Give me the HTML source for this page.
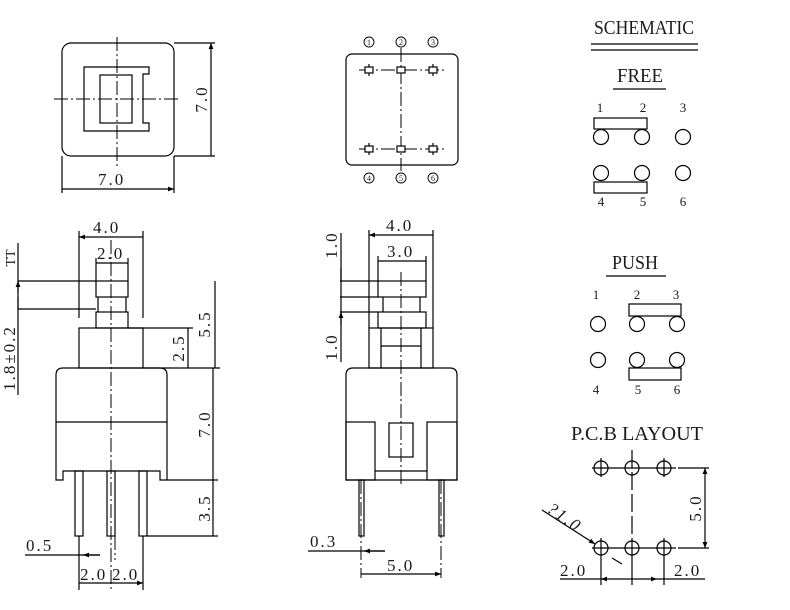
<!DOCTYPE html>
<html><head><meta charset="utf-8"><style>
html,body{margin:0;padding:0;background:#fff;}
svg{display:block;}
text{font-family:"Liberation Serif","Noto Serif CJK SC",serif;fill:#1a1a1a;}
.d{font-size:17px;letter-spacing:2px;}
.s{font-family:"Liberation Sans",sans-serif;font-size:13px;}
.t{font-size:20px;}
</style></head><body>
<svg width="790" height="610" viewBox="0 0 790 610" xmlns="http://www.w3.org/2000/svg">
<defs>
<marker id="e" viewBox="0 0 10 10" refX="10" refY="5" markerWidth="8" markerHeight="6" orient="auto" markerUnits="userSpaceOnUse"><path d="M0,1L10,5L0,9z" fill="#000" stroke="none"/></marker>
<marker id="b" viewBox="0 0 10 10" refX="0" refY="5" markerWidth="8" markerHeight="6" orient="auto" markerUnits="userSpaceOnUse"><path d="M10,1L0,5L10,9z" fill="#000" stroke="none"/></marker>
</defs>
<g fill="none" stroke="#000" stroke-width="1.2">
<!-- top-left view -->
<rect x="62" y="43" width="112" height="113" rx="9"/>
<path d="M84,67H149V74H143V123H149V131H84Z"/>
<rect x="100" y="75" width="32" height="48"/>
<path d="M117,37V167M54,99H178" stroke-width="1" stroke-dasharray="14,3,2,3"/>
<path d="M174,43H215M174,156H215M62,156V193M174,156V193"/>
<path d="M211,43V156M62,189H174" marker-start="url(#b)" marker-end="url(#e)"/>
<!-- top-mid view -->
<rect x="346" y="54" width="112" height="111" rx="6"/>
<path d="M359,70H444M359,149H444" stroke-dasharray="14,3,2,3" stroke-width="1"/>
<path d="M401,48V171" stroke-dasharray="14,3,2,3" stroke-width="1"/>
<path d="M369,64V76M433,64V76M369,143V155M433,143V155"/>
<rect x="365" y="67" width="8" height="6" fill="#fff"/><rect x="397" y="67" width="8" height="6" fill="#fff"/><rect x="429" y="67" width="8" height="6" fill="#fff"/>
<rect x="365" y="146" width="8" height="6" fill="#fff"/><rect x="397" y="146" width="8" height="6" fill="#fff"/><rect x="429" y="146" width="8" height="6" fill="#fff"/>
<g stroke-width="0.9"><circle cx="369" cy="42" r="5"/><circle cx="401" cy="42" r="5"/><circle cx="433" cy="42" r="5"/><circle cx="369" cy="178" r="5"/><circle cx="401" cy="178" r="5"/><circle cx="433" cy="178" r="5"/></g>
<!-- left side view -->
<rect x="96" y="281" width="32" height="16"/>
<path d="M98,297V312M126,297V312"/>
<rect x="96" y="312" width="32" height="16"/>
<rect x="79" y="328" width="64" height="40"/>
<path d="M56,480V375Q56,368 63,368H160Q167,368 167,375V480H160V471H63V480Z"/>
<path d="M56,422H167"/>
<rect x="75" y="471" width="8" height="65"/><rect x="107" y="471" width="8" height="65"/><rect x="139" y="471" width="8" height="65"/>
<path d="M111,240V592M79,536V560M115,536V560" stroke-width="1" stroke-dasharray="14,3,2,3"/>
<path d="M79,231V318M143,231V318M96,258V281M128,258V281M18,243V395M18,281H96M18,309H96M128,328H193M143,368H220M167,480H218M147,536H218M79,536V590M143,536V590"/>
<path d="M79,237H143M96,263H128M188,328V368M215,281V368M213,368V480M213,480V536M79,583H111M111,583H143" marker-start="url(#b)" marker-end="url(#e)"/>
<path d="M18,281V293M18,309V297" marker-start="url(#b)"/>
<path d="M25,555H79M100,555H83" marker-end="url(#e)"/>
<path d="M79,555H100"/>
<!-- right side view -->
<rect x="378" y="281" width="48" height="16"/>
<path d="M383,297V312M420,297V312"/>
<rect x="378" y="312" width="48" height="16"/>
<rect x="369" y="328" width="64" height="40"/>
<path d="M381,328V368M421,328V368M381,346H421"/>
<path d="M346,480V375Q346,368 353,368H450Q457,368 457,375V480Z"/>
<rect x="346" y="422" width="29" height="58"/><rect x="427" y="422" width="30" height="58"/>
<path d="M375,471H427"/>
<rect x="389" y="423" width="24" height="34"/>
<rect x="359" y="480" width="5" height="56"/><rect x="439" y="480" width="5" height="56"/>
<path d="M401,272V485" stroke-width="1" stroke-dasharray="14,3,2,3"/>
<path d="M361,480V578M441,480V578" stroke-width="1" stroke-dasharray="14,3,2,3"/>
<path d="M369,230V328M433,230V328M378,256V281M426,256V281M341,233V362M340,281H378M340,297H378M340,312H378"/>
<path d="M369,235H433M378,261H426M361,574H441" marker-start="url(#b)" marker-end="url(#e)"/>
<path d="M341,268V281M341,325V312" marker-end="url(#e)"/>
<path d="M308,551H359M385,551H364" marker-end="url(#e)"/><path d="M359,551H385"/>
<!-- schematic -->
<path d="M591,44H698M591,50H698M613,89H666M606,276H666"/>
<rect x="594" y="118" width="53" height="11"/><rect x="594" y="182" width="53" height="11"/>
<circle cx="601" cy="137" r="7.5"/><circle cx="642" cy="137" r="7.5"/><circle cx="683" cy="137" r="7.5"/>
<circle cx="601" cy="173" r="7.5"/><circle cx="642" cy="173" r="7.5"/><circle cx="683" cy="173" r="7.5"/>
<rect x="629" y="304" width="52" height="12"/><rect x="629" y="368" width="52" height="12"/>
<circle cx="598" cy="324" r="7.5"/><circle cx="637" cy="324" r="7.5"/><circle cx="677" cy="324" r="7.5"/>
<circle cx="598" cy="360" r="7.5"/><circle cx="637" cy="360" r="7.5"/><circle cx="677" cy="360" r="7.5"/>
<!-- PCB -->
<circle cx="601" cy="468" r="7"/><circle cx="632" cy="468" r="7"/><circle cx="664" cy="468" r="7"/>
<circle cx="601" cy="548" r="7"/><circle cx="632" cy="548" r="7"/><circle cx="664" cy="548" r="7"/>
<path d="M592,468H676M592,548H676M601,458V477M664,458V477M601,538V585M632,538V585M664,538V585"/>
<path d="M632,450V538" stroke-dasharray="18,4"/>
<path d="M678,468H709M678,548H709"/>
<path d="M705,468V548" marker-start="url(#b)" marker-end="url(#e)"/>
<path d="M560,579H705"/>
<path d="M601,579H625M632,579H657" marker-start="url(#b)" marker-end="url(#e)" stroke-width="1"/>
<path d="M542,510L595,544" marker-end="url(#e)"/><path d="M612,558L622,564"/>
</g>
<g class="d">
<text x="98" y="185">7.0</text>
<text transform="translate(207,99) rotate(-90)" text-anchor="middle">7.0</text>
<text x="93" y="233">4.0</text>
<text x="97" y="259">2.0</text>
<text transform="translate(15,258) rotate(-90)" text-anchor="middle" style="font-size:14px;letter-spacing:0">TT</text>
<text transform="translate(15,358) rotate(-90)" text-anchor="middle">1.8±0.2</text>
<text transform="translate(210,324) rotate(-90)" text-anchor="middle">5.5</text>
<text transform="translate(184,348) rotate(-90)" text-anchor="middle">2.5</text>
<text transform="translate(210,424) rotate(-90)" text-anchor="middle">7.0</text>
<text transform="translate(210,508) rotate(-90)" text-anchor="middle">3.5</text>
<text x="26" y="551">0.5</text>
<text x="80" y="580">2.0</text>
<text x="112" y="580">2.0</text>
<text x="386" y="231">4.0</text>
<text x="387" y="257">3.0</text>
<text transform="translate(337,245) rotate(-90)" text-anchor="middle">1.0</text>
<text transform="translate(337,347) rotate(-90)" text-anchor="middle">1.0</text>
<text x="310" y="547">0.3</text>
<text x="387" y="571">5.0</text>
<text transform="translate(701,508) rotate(-90)" text-anchor="middle">5.0</text>
<text x="560" y="576">2.0</text>
<text x="674" y="576">2.0</text>
<text transform="translate(546,511) rotate(35)" style="font-style:italic">?1.0</text>
</g>
<g style="font-size:8px;text-anchor:middle;font-family:'Liberation Sans',sans-serif">
<text x="369" y="45">1</text><text x="401" y="45">2</text><text x="433" y="45">3</text>
<text x="369" y="181">4</text><text x="401" y="181">5</text><text x="433" y="181">6</text>
</g>
<g class="t" text-anchor="middle">
<text x="644" y="34" textLength="100" lengthAdjust="spacingAndGlyphs">SCHEMATIC</text>
<text x="640" y="82" textLength="46" lengthAdjust="spacingAndGlyphs">FREE</text>
<text x="635" y="269" textLength="46" lengthAdjust="spacingAndGlyphs">PUSH</text>
<text x="637" y="440" textLength="132" lengthAdjust="spacingAndGlyphs">P.C.B LAYOUT</text>
</g>
<g class="s" text-anchor="middle">
<text x="600" y="112">1</text><text x="643" y="112">2</text><text x="683" y="112">3</text>
<text x="601" y="206">4</text><text x="643" y="206">5</text><text x="683" y="206">6</text>
<text x="596" y="299">1</text><text x="637" y="299">2</text><text x="676" y="299">3</text>
<text x="596" y="394">4</text><text x="638" y="394">5</text><text x="677" y="394">6</text>
</g>
</svg>
</body></html>
